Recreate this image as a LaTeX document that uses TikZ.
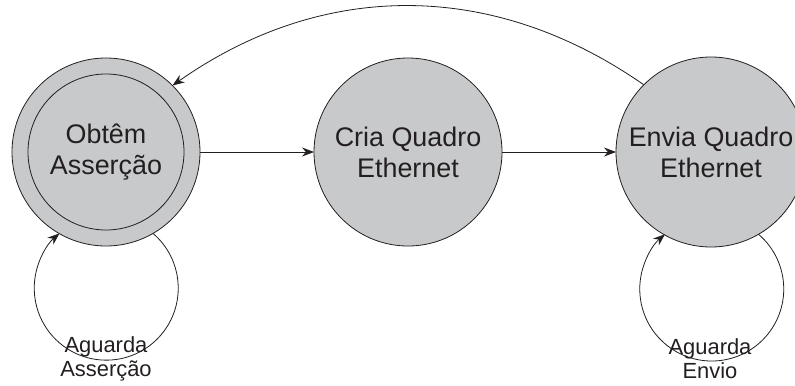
\documentclass[tikz,border=0pt]{standalone}
\usepackage{fontspec}
\setmainfont{Liberation Sans}
\usetikzlibrary{positioning, arrows.meta}
\definecolor{stategray}{RGB}{200,201,203}
\definecolor{inkline}{RGB}{35,31,32}

\begin{document}
\begin{tikzpicture}[x=1bp, y=1bp, color=inkline, line width=0.8bp, >={Stealth[length=12bp, width=9bp]}]
\tikzstyle{state}=[circle, draw, fill=stategray, minimum size=188bp, inner sep=0pt, outer sep=0pt, align=center, font=\fontsize{27}{31}\selectfont]
\tikzstyle{waitlabel}=[align=center, inner sep=0pt, font=\fontsize{22}{24}\selectfont]
\useasboundingbox (0,0) rectangle (795,385);
\node[state] (A) at (106,233) {Obtêm\\Asserção};
\node[state, fill=none, minimum size=156bp] (A0) at (A) {};
\node[state, right=114bp of A] (B) {Cria Quadro\\Ethernet};
\node[state, right=114bp of B, minimum size=190bp] (C) {Envia Quadro\\Ethernet};
\node[waitlabel] (D) at (106,26) {Aguarda\\Asserção};
\node[waitlabel] (E) at (710,26) {Aguarda\\Envio};
\draw [->] (A) -- (B);
\draw [->] (B) -- (C);
\draw [->] (C.135) to[bend right=35] (A.45);
\draw [->] (A.-60) arc[start angle=49.5, end angle=-229.5, radius=72];
\draw [->] (C.-60) arc[start angle=49.5, end angle=-229.5, radius=72];
\end{tikzpicture}
\end{document}
